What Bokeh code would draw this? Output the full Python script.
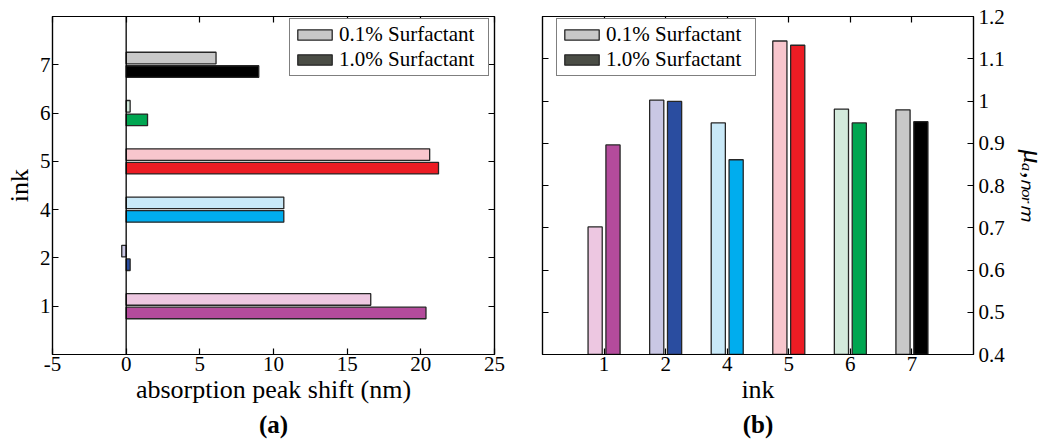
import numpy as np
from bokeh.plotting import figure
from bokeh.layouts import row
from bokeh.models import (ColumnDataSource, Range1d, FixedTicker, LinearAxis, Span,
                          Legend, LegendItem, Title, CustomJSTickFormatter)
from bokeh.embed import file_html
from bokeh.resources import INLINE

# ---------------- data ----------------
inks = ["1", "2", "4", "5", "6", "7"]
shift_01 = [16.6, -0.3, 10.7, 20.6, 0.27, 6.1]      # 0.1% surfactant, nm
shift_10 = [20.35, 0.27, 10.7, 21.2, 1.45, 9.0]     # 1.0% surfactant, nm
mu_01 = [0.702, 1.002, 0.948, 1.142, 0.981, 0.979]
mu_10 = [0.896, 0.999, 0.861, 1.132, 0.948, 0.951]
light_colors = ["#EDC7E1", "#C9C7E4", "#C9E9F8", "#F8C6CD", "#D3EADC", "#C8C8C8"]
dark_colors = ["#B44B9C", "#2A4DA0", "#00ADEE", "#EC1C24", "#00A651", "#000000"]
legend_labels = ["0.1% Surfactant", "1.0% Surfactant"]
legend_colors = ["#C8C8C8", "#4A4D45"]
x_ticks_a = [-5, 0, 5, 10, 15, 20, 25]
x_tick_labels_a = ["-5", "0", "5", "10", "15", "20", "25"]
y_ticks_b = [0.4, 0.5, 0.6, 0.7, 0.8, 0.9, 1.0, 1.1, 1.2]
mu_label = "\u03bc\u2090,\u2099\u2092\u1d63\u2098"   # mu_{a,norm}

FONT = "Liberation Serif"
TICK_FS = "21px"
LABEL_FS = "26px"
EDGE = "#262626"

pos = np.arange(1, len(inks) + 1)
ink_overrides = {int(p): s for p, s in zip(pos, inks)}
OFF = 0.14
BW = 0.24


def style_axis(ax):
    ax.major_tick_in = 6
    ax.major_tick_out = 0
    ax.minor_tick_line_color = None
    ax.minor_tick_out = 0
    ax.axis_line_color = "black"
    ax.axis_line_width = 1.2
    ax.major_tick_line_color = "black"
    ax.major_tick_line_width = 1.2
    ax.major_label_text_font = FONT
    ax.major_label_text_font_size = TICK_FS
    ax.major_label_text_color = "black"
    ax.axis_label_text_font = FONT
    ax.axis_label_text_font_size = LABEL_FS
    ax.axis_label_text_font_style = "normal"
    ax.axis_label_text_color = "black"


def mirror_axis(ticks, side, plot):
    ax = LinearAxis(ticker=FixedTicker(ticks=ticks),
                    formatter=CustomJSTickFormatter(code="return ''"))
    style_axis(ax)
    ax.major_label_standoff = 0
    ax.major_label_text_font_size = "0px"
    plot.add_layout(ax, side)


def make_legend(plot, loc, x0, y0):
    items = []
    for lab, col in zip(legend_labels, legend_colors):
        r = plot.vbar(x=[x0], top=[y0], bottom=y0, width=0.2, fill_color=col,
                      line_color=EDGE, line_width=1.3)
        r.visible = False
        items.append(LegendItem(label=lab, renderers=[r]))
    leg = Legend(items=items, location=loc, border_line_color="black", border_line_width=1.3,
                 background_fill_color="white", background_fill_alpha=1,
                 label_text_font=FONT, label_text_font_size="21px", label_text_color="black",
                 glyph_width=43, glyph_height=13, label_standoff=3, label_height=19,
                 label_width=146, spacing=0, padding=3, margin=0)
    plot.add_layout(leg)


def caption(plot, text):
    plot.add_layout(Title(text=text, align="center", text_font=FONT, text_font_size="25px",
                          text_font_style="bold", text_color="black", standoff=4), "below")


# ---------------- (a) horizontal bars ----------------
pa = figure(width=520, height=442, x_range=Range1d(-5, 25), y_range=Range1d(0, 7),
            output_backend="svg", toolbar_location=None,
            min_border_left=52, min_border_right=26, min_border_top=16, min_border_bottom=88)
pa.grid.visible = False
pa.outline_line_color = "black"
pa.outline_line_width = 1.2
pa.background_fill_color = "white"

src_a = ColumnDataSource(dict(y01=pos + OFF, y10=pos - OFF, s01=shift_01, s10=shift_10,
                              c01=light_colors, c10=dark_colors))
pa.hbar(y="y01", left=0, right="s01", height=BW, fill_color="c01", line_color=EDGE,
        line_width=1.3, source=src_a)
pa.hbar(y="y10", left=0, right="s10", height=BW, fill_color="c10", line_color=EDGE,
        line_width=1.3, source=src_a)
pa.add_layout(Span(location=0, dimension="height", line_color="black", line_width=1.3))

pa.xaxis.ticker = FixedTicker(ticks=x_ticks_a)
pa.xaxis.major_label_overrides = dict(zip(x_ticks_a, x_tick_labels_a))
pa.yaxis.ticker = FixedTicker(ticks=list(pos))
pa.yaxis.major_label_overrides = ink_overrides
for ax in pa.xaxis + pa.yaxis:
    style_axis(ax)
pa.xaxis.axis_label = "absorption peak shift (nm)"
pa.yaxis.axis_label = "ink"
pa.xaxis.major_label_standoff = 2
pa.xaxis.axis_label_standoff = 1
pa.yaxis.major_label_standoff = 2
pa.yaxis.axis_label_standoff = 3
mirror_axis(x_ticks_a, "above", pa)
mirror_axis(list(pos), "right", pa)
make_legend(pa, (237, 278), 0, pos[0])
caption(pa, "(a)")

# ---------------- (b) vertical bars ----------------
pb = figure(width=531, height=442, x_range=Range1d(0, 7), y_range=Range1d(0.4, 1.2),
            y_axis_location="right", output_backend="svg", toolbar_location=None,
            min_border_left=22, min_border_right=75, min_border_top=16, min_border_bottom=88)
pb.grid.visible = False
pb.outline_line_color = "black"
pb.outline_line_width = 1.2
pb.background_fill_color = "white"

src_b = ColumnDataSource(dict(x01=pos - 0.145, x10=pos + 0.145, m01=mu_01, m10=mu_10,
                              c01=light_colors, c10=dark_colors))
pb.vbar(x="x01", bottom=0.4, top="m01", width=0.23, fill_color="c01", line_color=EDGE,
        line_width=1.3, source=src_b)
pb.vbar(x="x10", bottom=0.4, top="m10", width=0.23, fill_color="c10", line_color=EDGE,
        line_width=1.3, source=src_b)

pb.xaxis.ticker = FixedTicker(ticks=list(pos))
pb.xaxis.major_label_overrides = ink_overrides
pb.yaxis.ticker = FixedTicker(ticks=y_ticks_b)
pb.yaxis.major_label_overrides = {1: "1"}
for ax in pb.xaxis + pb.yaxis:
    style_axis(ax)
pb.xaxis.axis_label = "ink"
pb.xaxis.major_label_standoff = 2
pb.xaxis.axis_label_standoff = 1
pb.yaxis.major_label_standoff = 5
pb.yaxis.axis_label = mu_label
pb.yaxis.axis_label_text_font_size = "28px"
pb.yaxis.axis_label_text_font_style = "italic"
pb.yaxis.axis_label_standoff = 10
mirror_axis(list(pos), "above", pb)
mirror_axis(y_ticks_b, "left", pb)
make_legend(pb, (14, 278), pos[0], 0.4)
caption(pb, "(b)")

layout = row(pa, pb)
open("out.html", "w").write(file_html(layout, INLINE))
